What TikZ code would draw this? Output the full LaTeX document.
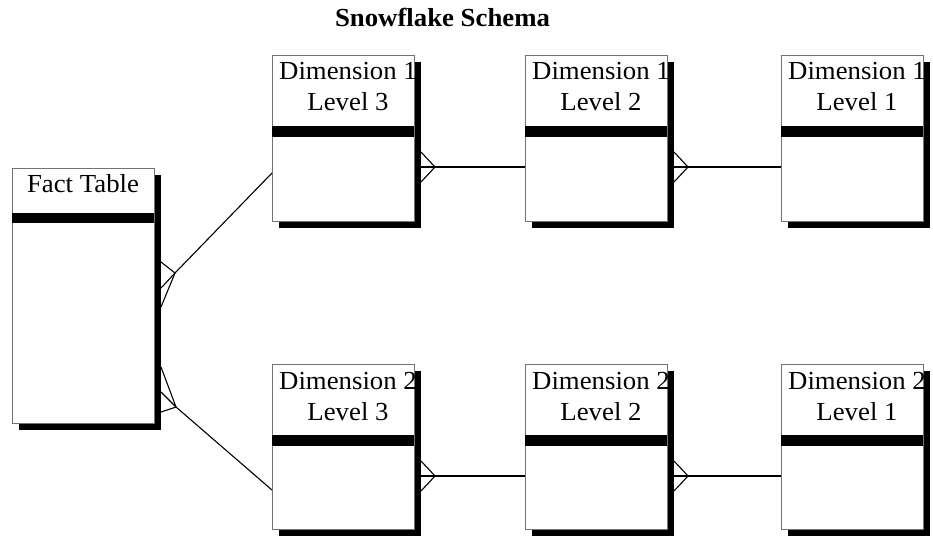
\documentclass[tikz,border=0pt]{standalone}
\usepackage{fontspec}
\setmainfont{Liberation Serif}[FakeStretch=1.03]
\usetikzlibrary{calc,shadows}
\tikzset{
  tbl/.style={draw=black!55, line width=0.8pt, fill=white, anchor=north west,
    minimum width=142pt, inner sep=0pt, outer sep=0pt,
    drop shadow={shadow xshift=7pt, shadow yshift=-7pt, fill=black, opacity=1}},
  lbl/.style={anchor=base, inner sep=0pt, font=\fontsize{26}{30}\selectfont},
  conn/.style={line width=1.1pt, black, line join=miter},
}
\begin{document}
\begin{tikzpicture}[x=1pt, y=-1pt]
  \useasboundingbox (0,0) rectangle (933,537);

  % title
  \node[anchor=base, inner sep=0pt, font=\bfseries\fontsize{26}{30}\selectfont] (title) at (442.5,27) {Snowflake Schema};

  % tables
  \node[tbl, minimum height=255pt] (fact) at (12,168) {};
  \node[tbl, minimum height=166pt] (d13) at (272,55) {};
  \node[tbl, minimum height=166pt] (d12) at (525,55) {};
  \node[tbl, minimum height=166pt] (d11) at (781,55) {};
  \node[tbl, minimum height=165pt] (d23) at (272,364) {};
  \node[tbl, minimum height=165pt] (d22) at (525,364) {};
  \node[tbl, minimum height=165pt] (d21) at (781,364) {};

  % header separator bars
  \fill[black] ($(fact.north west)+(0,45)$) rectangle ($(fact.north east)+(0,55)$);
  \foreach \t in {d13,d12,d11,d23,d22,d21}
    \fill[black] ($(\t.north west)+(0,71)$) rectangle ($(\t.north east)+(0,82)$);

  % table headings
  \node[lbl] (factname) at ($(fact.north)+(0,25)$) {Fact Table};
  \node[lbl] (d13a) at ($(d13.north)+(5,25)$) {Dimension 1};
  \node[lbl] (d13b) at ($(d13.north)+(5,56)$) {Level 3};
  \node[lbl] (d12a) at ($(d12.north)+(5,25)$) {Dimension 1};
  \node[lbl] (d12b) at ($(d12.north)+(5,56)$) {Level 2};
  \node[lbl] (d11a) at ($(d11.north)+(5,25)$) {Dimension 1};
  \node[lbl] (d11b) at ($(d11.north)+(5,56)$) {Level 1};
  \node[lbl] (d23a) at ($(d23.north)+(5,25)$) {Dimension 2};
  \node[lbl] (d23b) at ($(d23.north)+(5,56)$) {Level 3};
  \node[lbl] (d22a) at ($(d22.north)+(5,25)$) {Dimension 2};
  \node[lbl] (d22b) at ($(d22.north)+(5,56)$) {Level 2};
  \node[lbl] (d21a) at ($(d21.north)+(5,25)$) {Dimension 2};
  \node[lbl] (d21b) at ($(d21.north)+(5,56)$) {Level 1};

  % fact table to level 3 tables (crow's foot on the fact side)
  \coordinate (fa) at ($(fact.north east)+(21,105)$);
  \draw[conn] ($(fact.north east)+(7,94)$) -- (fa);
  \draw[conn] ($(fact.north east)+(7,120)$) -- (fa);
  \draw[conn] ($(fact.north east)+(7,139)$) -- (fa);
  \draw[conn] (fa) -- ($(d13.north west)+(0,118)$);

  \coordinate (fb) at ($(fact.north east)+(22,239)$);
  \draw[conn] ($(fact.north east)+(7,199)$) -- (fb);
  \draw[conn] ($(fact.north east)+(7,224)$) -- (fb);
  \draw[conn] ($(fact.north east)+(7,244)$) -- (fb);
  \draw[conn] (fb) -- ($(d23.north west)+(0,126)$);

  % level links (crow's foot on the finer level)
  \foreach \a/\b in {d13/d12, d12/d11, d23/d22, d22/d21}{
    \coordinate (cf) at ($(\a.north east)+(21,112)$);
    \draw[conn] ($(\a.north east)+(7,97)$) -- (cf) -- ($(\a.north east)+(7,127)$);
    \draw[conn] ($(\a.north east)+(7,112)$) -- ($(\b.north west)+(0,112)$);
  }
\end{tikzpicture}
\end{document}
